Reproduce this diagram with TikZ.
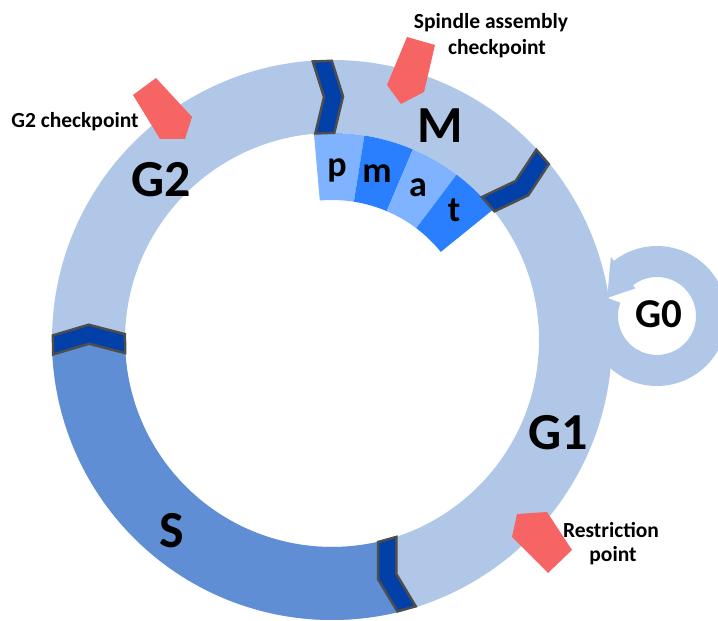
\documentclass[tikz,border=0pt]{standalone}
\usepackage{fontspec}
\setmainfont{Carlito}
\usetikzlibrary{calc}
\definecolor{ringlight}{HTML}{B0C7E8}
\definecolor{sphase}{HTML}{5F8ED5}
\definecolor{chevfill}{HTML}{0040A8}
\definecolor{chevline}{HTML}{4D4D4D}
\definecolor{plight}{HTML}{80B3FF}
\definecolor{pdark}{HTML}{2A7FFF}
\definecolor{redmark}{HTML}{F66464}
\tikzset{
  phaselabel/.style={font=\fontsize{52}{52}\selectfont\bfseries, anchor=base, inner sep=0pt, text=black},
  sublabel/.style={font=\fontsize{36}{36}\selectfont\bfseries, anchor=base, inner sep=0pt, text=black},
  notelabel/.style={font=\fontsize{21.5}{21.5}\selectfont\bfseries, anchor=base, inner sep=0pt, text=black},
  chevstyle/.style={fill=chevfill, draw=chevline, line width=2.5pt, line join=miter},
  marker/.style={fill=redmark}
}
\newcommand{\chevshape}[1]{%
  \draw[chevstyle] ($(C)+(#1:207)+(#1-90:-9.5)$) -- ($(C)+(#1:243)+(#1-90:0.5)$) -- ($(C)+(#1:279)+(#1-90:-9.5)$) -- ($(C)+(#1:279)+(#1-90:9.5)$) -- ($(C)+(#1:243)+(#1-90:19.5)$) -- ($(C)+(#1:207)+(#1-90:9.5)$) -- cycle;}
\newcommand{\pmatsector}[3]{%
  \fill[#3] ($(C)+(#1:207)$) arc[start angle=#1,end angle=#2,radius=207] -- ($(C)+(#2:140)$) arc[start angle=#2,end angle=#1,radius=140] -- cycle;}
\begin{document}
\begin{tikzpicture}[x=1pt,y=1pt]
\useasboundingbox (0,0) rectangle (718,621);
\coordinate (C) at (332,281);
\coordinate (L) at (657,305);
% main ring
\fill[ringlight,even odd rule] (C) circle[radius=280] (C) circle[radius=207];
% S phase
\fill[sphase] ($(C)+(181:280)$) arc[start angle=181,end angle=285.5,radius=280]
  -- ($(C)+(285.5:243)+(195.5:10)$) -- ($(C)+(285.5:207)$)
  arc[start angle=285.5,end angle=181,radius=207]
  -- ($(C)+(181:243)+(91:10)$) -- cycle;
% p m a t
\pmatsector{95}{81}{plight}
\pmatsector{81}{67}{pdark}
\pmatsector{67}{53}{plight}
\pmatsector{53}{39}{pdark}
% chevrons
\chevshape{92}
\chevshape{41}
\chevshape{181}
\chevshape{285.5}
% G0 loop
\fill[ringlight] ($(L)+(240:70)$) arc[start angle=240,end angle=488,radius=70]
  -- ($(L)+(488:75)$) -- ($(L)+(520:53)$) -- ($(L)+(488:35)$) -- ($(L)+(488:39)$)
  arc[start angle=488,end angle=240,radius=39] -- cycle;
\fill[ringlight] ($(L)+(160:39)$) arc[start angle=160,end angle=245,radius=39]
  -- ($(L)+(245:70)$) arc[start angle=245,end angle=215,radius=70]
  -- ($(L)+(200:100)$) -- ($(L)+(160:80)$) -- cycle;
% checkpoint markers
\fill[marker] (407,584) -- (435,576) -- (424,529) -- (401,517) -- (387,536) -- cycle;
\fill[marker] (156,543) -- (192,504) -- (185,482) -- (160,482) -- (133,526) -- cycle;
\fill[marker] (517,107) -- (547,109) -- (572,71) -- (548,48) -- (512,84) -- cycle;
% phase labels
\node[phaselabel] (lM) at (440,478) {M};
\node[phaselabel] (lG2) at (161,424) {G2};
\node[phaselabel] (lS) at (172,73) {S};
\node[phaselabel] (lG1) at (558,171) {G1};
\node[phaselabel, font=\fontsize{41}{41}\selectfont\bfseries] (lG0) at (659,293) {G0};
% sub phases
\node[sublabel] (lp) at (337,444) {p};
\node[sublabel] (lm) at (377,438) {m};
\node[sublabel] (la) at (418,424) {a};
\node[sublabel] (lt) at (454,399) {t};
% notes
\node[notelabel] (n1) at (491,592) {Spindle assembly};
\node[notelabel] (n2) at (497,566) {checkpoint};
\node[notelabel] (n3) at (75,493) {G2 checkpoint};
\node[notelabel] (n4) at (611,83) {Restriction};
\node[notelabel] (n5) at (613,59) {point};
\end{tikzpicture}
\end{document}
